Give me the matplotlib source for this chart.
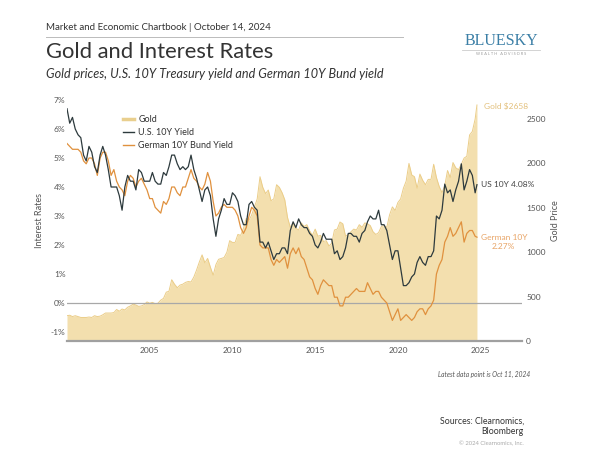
import pandas as pd
import matplotlib.pyplot as plt
from matplotlib.lines import Line2D

plt.rcParams['font.family'] = ['Lato', 'DejaVu Sans']

# observations every two months (Jan/Mar/May/Jul/Sep/Nov) 2000 - Sep 2024,
# plus the latest data point, Oct 11, 2024
dates = list(pd.date_range('2000-01-01', '2024-09-01', freq='2MS')) + [pd.Timestamp('2024-10-11')]

gold = [
    285, 290, 275, 285, 275, 265,        # 2000
    265, 265, 270, 265, 285, 275,        # 2001
    280, 295, 315, 315, 315, 320,        # 2002
    355, 335, 360, 350, 380, 395,        # 2003
    415, 405, 390, 395, 410, 440,        # 2004
    425, 435, 420, 425, 460, 480,        # 2005
    550, 560, 690, 640, 600, 630,        # 2006
    640, 660, 670, 665, 720, 800,        # 2007
    890, 970, 880, 930, 830, 740,        # 2008
    860, 920, 930, 940, 1000, 1130,      # 2009
    1110, 1110, 1200, 1190, 1270, 1380,  # 2010
    1360, 1420, 1510, 1600, 1850, 1730,  # 2011
    1660, 1700, 1580, 1600, 1760, 1730,  # 2012
    1670, 1590, 1390, 1280, 1330, 1270,  # 2013
    1250, 1330, 1290, 1310, 1240, 1190,  # 2014
    1260, 1180, 1190, 1120, 1130, 1070,  # 2015
    1100, 1250, 1260, 1340, 1320, 1180,  # 2016
    1200, 1230, 1260, 1250, 1310, 1280,  # 2017
    1330, 1320, 1300, 1230, 1200, 1220,  # 2018
    1290, 1300, 1280, 1420, 1510, 1470,  # 2019
    1560, 1600, 1720, 1800, 2000, 1870,  # 2020
    1850, 1720, 1880, 1810, 1760, 1820,  # 2021
    1820, 1990, 1840, 1740, 1670, 1750,  # 2022
    1920, 1840, 2010, 1950, 1930, 1990,  # 2023
    2060, 2080, 2320, 2360, 2500,        # 2024
    2658,
]

us_10y = [
    6.7, 6.2, 6.4, 6.0, 5.8, 5.7,
    5.1, 4.9, 5.4, 5.2, 4.7, 4.5,
    5.1, 5.4, 5.1, 4.6, 4.0, 4.0,
    4.0, 3.7, 3.2, 4.0, 4.4, 4.2,
    4.2, 3.9, 4.6, 4.5, 4.2, 4.2,
    4.2, 4.5, 4.2, 4.1, 4.1, 4.5,
    4.4, 4.7, 5.1, 5.1, 4.8, 4.6,
    4.7, 4.6, 4.7, 5.1, 4.6, 4.3,
    3.9, 3.5, 3.9, 4.0, 3.7, 2.9,
    2.3, 2.9, 3.2, 3.6, 3.4, 3.4,
    3.8, 3.7, 3.5, 3.0, 2.7, 2.7,
    3.4, 3.5, 3.3, 3.2, 2.1, 2.1,
    1.9, 2.1, 1.8, 1.5, 1.7, 1.7,
    1.9, 1.9, 1.7, 2.5, 2.8, 2.6,
    2.9, 2.7, 2.6, 2.6, 2.4, 2.3,
    2.0, 1.9, 2.1, 2.4, 2.2, 2.2,
    2.2, 1.7, 1.8, 1.5, 1.6, 1.9,
    2.4, 2.4, 2.3, 2.3, 2.1, 2.4,
    2.5, 2.8, 3.0, 2.9, 2.9, 3.2,
    2.7, 2.7, 2.5, 2.0, 1.5, 1.8,
    1.8, 1.2, 0.6, 0.6, 0.7, 0.9,
    1.0, 1.4, 1.6, 1.4, 1.3, 1.6,
    1.6, 1.8, 3.0, 2.9, 3.2, 4.1,
    3.8, 3.9, 3.5, 3.9, 4.2, 4.8,
    3.9, 4.2, 4.6, 4.4, 3.8,
    4.08,
]

de_10y = [
    5.5, 5.4, 5.3, 5.3, 5.3, 5.2,
    4.9, 4.8, 5.0, 5.0, 4.8, 4.4,
    5.0, 5.2, 5.2, 4.9, 4.4, 4.6,
    4.2, 4.0, 3.9, 3.7, 4.2, 4.4,
    4.3, 4.0, 4.2, 4.3, 4.1, 3.9,
    3.6, 3.6, 3.3, 3.2, 3.1, 3.5,
    3.4, 3.6, 4.0, 4.0, 3.8, 3.7,
    4.0, 4.0, 4.3, 4.6, 4.3, 4.2,
    4.0, 3.9, 4.1, 4.5, 4.2, 3.5,
    3.0, 3.1, 3.3, 3.4, 3.3, 3.3,
    3.3, 3.2, 3.0, 2.6, 2.4, 2.6,
    3.0, 3.3, 3.2, 3.0, 2.0, 1.9,
    1.9, 1.9, 1.5, 1.3, 1.5, 1.4,
    1.5, 1.6, 1.2, 1.7, 1.9, 1.7,
    1.9, 1.6, 1.5, 1.2, 0.9, 0.8,
    0.5, 0.3, 0.6, 0.8, 0.7, 0.6,
    0.6, 0.2, 0.2, -0.1, -0.1, 0.2,
    0.2, 0.3, 0.4, 0.5, 0.4, 0.4,
    0.4, 0.7, 0.5, 0.3, 0.4, 0.4,
    0.2, 0.1, 0.0, -0.3, -0.6, -0.4,
    -0.2, -0.6, -0.5, -0.4, -0.5, -0.6,
    -0.5, -0.3, -0.2, -0.2, -0.4, -0.2,
    -0.1, 0.1, 1.0, 1.3, 1.5, 2.1,
    2.3, 2.6, 2.3, 2.4, 2.6, 2.8,
    2.1, 2.4, 2.5, 2.5, 2.3,
    2.27,
]

rate_ticks = [-1, 0, 1, 2, 3, 4, 5, 6, 7]
gold_ticks = [0, 500, 1000, 1500, 2000, 2500]
year_ticks = [2005, 2010, 2015, 2020, 2025]

years = [d.year + (d.dayofyear - 1) / 365.25 for d in dates]

gold_col = '#f3dfae'
gold_edge = '#ebcd88'
us_col = '#2d3a3d'
de_col = '#e0913e'
tick_col = '#555555'

fig = plt.figure(figsize=(6, 4.5), dpi=100)
ax = fig.add_axes([67 / 600, 1 - 341 / 450, 455 / 600, 241 / 450])
axg = ax.twinx()
ax.set_zorder(2)
axg.set_zorder(1)
ax.patch.set_visible(False)

# gold area on the right axis
axg.fill_between(years, gold, 0, color=gold_col, lw=0)
axg.plot(years, gold, color=gold_edge, lw=0.7)
axg.set_ylim(0, 2714)
axg.set_yticks(gold_ticks)
axg.tick_params(axis='y', length=0, labelsize=6, colors=tick_col, pad=3)
axg.set_ylabel('Gold Price', fontsize=6.5, color=tick_col, labelpad=4)

# yields on the left axis
ax.axhline(0, color='#a8a8a8', lw=0.9, zorder=1)
ax.plot(years, de_10y, color=de_col, lw=0.9, zorder=3)
ax.plot(years, us_10y, color=us_col, lw=0.9, zorder=4)
ax.set_ylim(-1.31, 7.0)
ax.set_yticks(rate_ticks)
ax.set_yticklabels([f'{t}%' for t in rate_ticks])
ax.tick_params(axis='y', length=0, labelsize=6, colors=tick_col, pad=1)
ax.set_ylabel('Interest Rates', fontsize=6.5, color=tick_col, labelpad=5)

ax.set_xlim(2000, 2027.5)
ax.set_xticks(year_ticks)
ax.tick_params(axis='x', length=0, labelsize=6, colors=tick_col, pad=4)

for a in (ax, axg):
    for s in ('top', 'left', 'right', 'bottom'):
        a.spines[s].set_visible(False)
axg.spines['bottom'].set_visible(True)
axg.spines['bottom'].set_color('#a0a0a0')
axg.spines['bottom'].set_linewidth(1.6)

handles = [Line2D([], [], color='#e9cf8e', lw=2.5),
           Line2D([], [], color=us_col, lw=1.0),
           Line2D([], [], color=de_col, lw=1.0)]
ax.legend(handles, ['Gold', 'U.S. 10Y Yield', 'German 10Y Bund Yield'],
          loc='upper left', bbox_to_anchor=(0.105, 0.97), frameon=False,
          fontsize=6.5, handlelength=1.2, handletextpad=0.5, labelspacing=0.45,
          labelcolor='#333333')

# end labels
axg.text(2025.2, 2640, 'Gold $2658', fontsize=6, color='#e3c07c', va='center', ha='left')
ax.text(2025.0, us_10y[-1], 'US 10Y 4.08%', fontsize=6, color='#444444', va='center', ha='left')
ax.text(2026.4, 2.1, 'German 10Y\n2.27%', fontsize=6, color='#e8a466', va='center', ha='center',
        linespacing=1.3)

# header
fig.text(46 / 600, 1 - 27 / 450, 'Market and Economic Chartbook | October 14, 2024',
         fontsize=7, color='#333333', va='center')
fig.add_artist(Line2D([46 / 600, 403 / 600], [1 - 37 / 450, 1 - 37 / 450],
                      color='#bbbbbb', lw=0.7))
fig.text(46 / 600, 1 - 52 / 450, 'Gold and Interest Rates', fontsize=15.8, color='#333333',
         va='center')
fig.text(46 / 600, 1 - 74 / 450, 'Gold prices, U.S. 10Y Treasury yield and German 10Y Bund yield',
         fontsize=9.1, color='#333333', style='italic', va='center')

# logo
fig.text(501 / 600, 1 - 41 / 450, 'BLUESKY', fontsize=11.5, color='#3b7fa6',
         family='Liberation Serif', ha='center', va='center')
fig.add_artist(Line2D([462 / 600, 540 / 600], [1 - 50 / 450, 1 - 50 / 450],
                      color='#cccccc', lw=0.6))
fig.text(501 / 600, 1 - 54 / 450, 'W E A L T H   A D V I S O R S', fontsize=2.8,
         color='#999999', ha='center', va='center')

# footer
fig.text(530 / 600, 1 - 374 / 450, 'Latest data point is Oct 11, 2024', fontsize=4.8,
         color='#555555', style='italic', ha='right', va='center')
fig.text(524 / 600, 1 - 426 / 450, 'Sources: Clearnomics,\nBloomberg', fontsize=6.3,
         color='#333333', ha='right', va='center', linespacing=1.2)
fig.text(524 / 600, 1 - 444 / 450, '© 2024 Clearnomics, Inc.', fontsize=4.2,
         color='#aaaaaa', ha='right', va='center')

fig.savefig('out.png', dpi=100)
